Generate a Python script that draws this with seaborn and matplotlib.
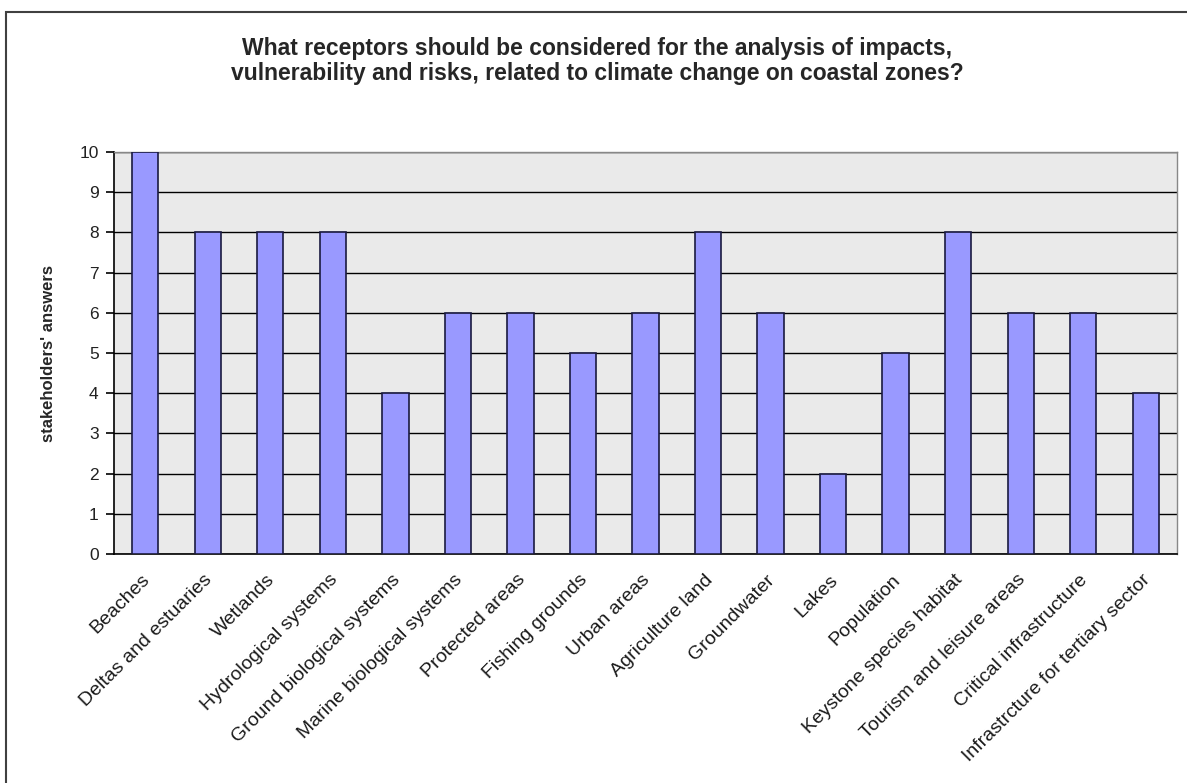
import matplotlib
matplotlib.use("Agg")
import matplotlib.pyplot as plt
import matplotlib.transforms as mtransforms
import seaborn as sns
import numpy as np
import pandas as pd
from matplotlib.patches import Rectangle

categories = ["Beaches", "Deltas and estuaries", "Wetlands", "Hydrological systems",
              "Ground biological systems", "Marine biological systems", "Protected areas",
              "Fishing grounds", "Urban areas", "Agriculture land", "Groundwater", "Lakes",
              "Population", "Keystone species habitat", "Tourism and leisure areas",
              "Critical infrastructure", "Infrastrcture for tertiary sector"]
values = [10, 8, 8, 8, 4, 6, 6, 5, 6, 8, 6, 2, 5, 8, 6, 6, 4]
yticks = list(range(0, 11))

title = ("What receptors should be considered for the analysis of impacts,\n"
         "vulnerability and risks, related to climate change on coastal zones?")
ylabel = "stakeholders' answers"

sns.set_style("white")
plt.rcParams['font.family'] = ['Liberation Sans', 'DejaVu Sans']

df = pd.DataFrame({"cat": categories, "val": values})

fig = plt.figure(figsize=(11.87, 7.83), dpi=100)
ax = fig.add_axes([114/1187, 1 - 554/783, (1177 - 114)/1187, (554 - 152)/783])
ax.set_facecolor("#EAEAEA")

sns.barplot(data=df, x="cat", y="val", ax=ax, color="#9999FF", saturation=1,
            edgecolor="#1A1A40", linewidth=1.2, width=0.42, zorder=3)

ax.set_ylim(0, 10)
ax.set_xlim(-0.5, len(categories) - 0.5)
ax.set_yticks(yticks)
ax.set_yticklabels([str(t) for t in yticks], fontsize=12.5, color="#222222")
ax.yaxis.grid(True, color="black", linewidth=1.0, zorder=1)
ax.set_axisbelow(True)
ax.xaxis.grid(False)

ax.set_xticks(range(len(categories)))
ax.set_xticklabels(categories, rotation=45, ha="right", rotation_mode="anchor",
                   fontsize=14, color="#1A1A1A")
ax.tick_params(axis="x", which="major", length=0, pad=11)
offset = mtransforms.ScaledTranslation(-4/100, -2/100, fig.dpi_scale_trans)
for lab in ax.get_xticklabels():
    lab.set_transform(lab.get_transform() + offset)
ax.set_xticks(np.arange(-0.5, len(categories), 1.0), minor=True)
ax.tick_params(axis="x", which="minor", length=6, width=1.2, color="black", direction="out")
ax.tick_params(axis="y", length=6, width=1.2, color="black", direction="out", left=True, pad=5)

for side in ["left", "bottom"]:
    ax.spines[side].set_color("black")
    ax.spines[side].set_linewidth(1.2)
for side in ["top", "right"]:
    ax.spines[side].set_color("#888888")
    ax.spines[side].set_linewidth(1.0)
    ax.spines[side].set_visible(True)

ax.set_xlabel("")
ax.set_ylabel(ylabel, fontsize=12, fontweight="bold")
ax.yaxis.set_label_coords((56 - 114) / 1063, 0.5)

fig.text(597/1187, 1 - 61/783, title, ha="center", va="center", fontsize=16.5,
         fontweight="bold", linespacing=1.1)

fig.patches.append(Rectangle((6/1187, -0.1), 1.2, 0.1 + (1 - 12/783), transform=fig.transFigure,
                             fill=False, edgecolor="#404040", linewidth=1.5))

fig.savefig("out.png", dpi=100, facecolor="white")
